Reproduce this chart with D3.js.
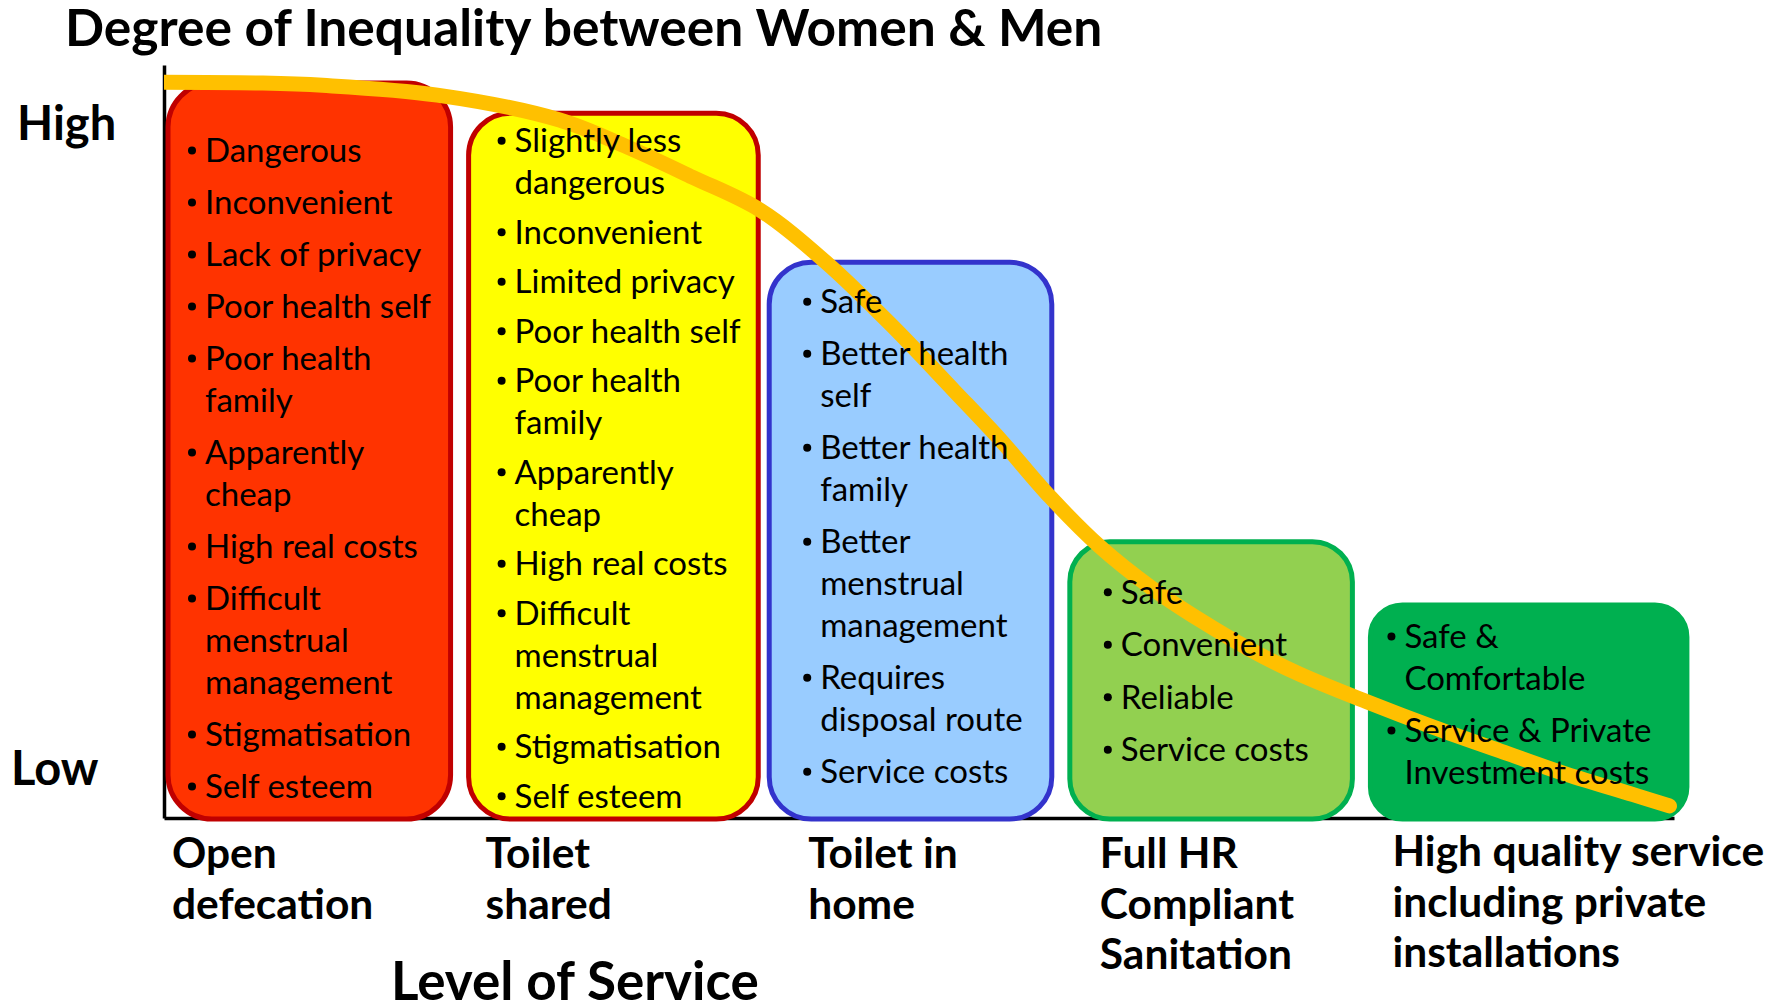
<!DOCTYPE html>
<html>
<head>
<meta charset="utf-8">
<script src="https://cdn.jsdelivr.net/npm/d3@7"></script>
<style>
  body { margin: 0; background: #fff; }
  text { font-family: Lato, "Open Sans", sans-serif; fill: #000; }
</style>
</head>
<body>
<div id="chart"></div>
<script>
const svgWidth = 1777;
const svgHeight = 1006;

// Levels of service (x categories)
const levels = ['Open defecation', 'Toilet shared', 'Toilet in home',
    'Full HR Compliant Sanitation', 'High quality service including private installations'];
const levelLines = [
    ['Open', 'defecation'],
    ['Toilet', 'shared'],
    ['Toilet in', 'home'],
    ['Full HR', 'Compliant', 'Sanitation'],
    ['High quality service', 'including private', 'installations']
];

// top of each box on the inequality scale (0 = low, 100 = high)
const boxTop = [97.6, 93.6, 73.8, 36.7, 28.3];

// bullet points per box (each item may wrap over several lines)
const boxItems = [
    [['Dangerous'], ['Inconvenient'], ['Lack of privacy'], ['Poor health self'],
     ['Poor health', 'family'], ['Apparently', 'cheap'], ['High real costs'],
     ['Difficult', 'menstrual', 'management'], ['Stigmatisation'], ['Self esteem']],
    [['Slightly less', 'dangerous'], ['Inconvenient'], ['Limited privacy'], ['Poor health self'],
     ['Poor health', 'family'], ['Apparently', 'cheap'], ['High real costs'],
     ['Difficult', 'menstrual', 'management'], ['Stigmatisation'], ['Self esteem']],
    [['Safe'], ['Better health', 'self'], ['Better health', 'family'],
     ['Better', 'menstrual', 'management'], ['Requires', 'disposal route'], ['Service costs']],
    [['Safe'], ['Convenient'], ['Reliable'], ['Service costs']],
    [['Safe &', 'Comfortable'], ['Service & Private', 'Investment costs']]
];

// inequality curve (x = service level 0-100, y = inequality 0-100)
const curveX = [0, 6.4, 10.5, 18.1, 26.2, 30.7, 35.0, 39.5, 43.9, 48.3, 52.3, 55.4, 58.7,
    62.0, 65.3, 68.6, 71.9, 75.2, 79.7, 84.0, 88.5, 92.9, 97.3, 99.7];
const curveY = [97.7, 97.6, 97.3, 96.0, 92.7, 89.1, 85.1, 80.7, 73.7, 65.2, 56.8, 50.2, 42.6,
    36.0, 30.7, 26.3, 22.4, 19.1, 15.4, 12.1, 8.9, 5.8, 3.1, 1.6];

// styling
const boxFill = ['#FF3300', '#FFFF00', '#99CCFF', '#92D050', '#00B050'];
const boxStroke = ['#C00000', '#C00000', '#3333CC', '#00B050', '#00B050'];
const boxRadius = [44, 42, 42, 40, 32];
const boxWidthK = [1, 1.025, 1, 1, 1.12];
const bulletInset = [24, 33, 38, 38, 21];
const textPadTop = [79, 39, 51, 62, 43];
const itemGap = [52, 49.5, 52, 52.5, 52];
const labelInset = [4, 17, 39, 30, 22];
const lineStep = 42;

const svg = d3.select('#chart')
    .append('svg')
    .attr('width', svgWidth)
    .attr('height', svgHeight);

const xScale = d3.scaleLinear().domain([0, 100]).range([164, 1674]);
const yScale = d3.scaleLinear().domain([0, 100]).range([818, 65]);
const band = d3.scaleBand()
    .domain(levels)
    .range([168, 1653])
    .paddingInner(0.06)
    .paddingOuter(0);

// axes (no ticks, just the lines)
svg.append('g')
    .attr('transform', `translate(0, ${yScale(0)})`)
    .call(d3.axisBottom(xScale).tickValues([]).tickSizeOuter(0));
svg.append('g')
    .attr('transform', `translate(${xScale(0)}, 0)`)
    .call(d3.axisLeft(yScale).tickValues([]).tickSizeOuter(0));
svg.selectAll('.domain').attr('stroke', '#000').attr('stroke-width', 3.5);

// boxes
svg.selectAll('.box')
    .data(levels)
    .enter()
    .append('rect')
    .classed('box', true)
    .attr('x', d => band(d))
    .attr('y', (d, i) => yScale(boxTop[i]))
    .attr('width', (d, i) => band.bandwidth() * boxWidthK[i])
    .attr('height', (d, i) => yScale(0) - yScale(boxTop[i]) + 1)
    .attr('rx', (d, i) => boxRadius[i])
    .attr('fill', (d, i) => boxFill[i])
    .attr('stroke', (d, i) => boxStroke[i])
    .attr('stroke-width', 5);

// inequality curve
svg.append('clipPath')
    .attr('id', 'clip')
    .append('rect')
    .attr('x', xScale(0))
    .attr('y', 0)
    .attr('width', svgWidth)
    .attr('height', svgHeight);

const line = d3.line()
    .x(d => xScale(d[0]))
    .y(d => yScale(d[1]))
    .curve(d3.curveCatmullRom);

svg.append('path')
    .datum(curveX.map((v, i) => [v, curveY[i]]))
    .attr('d', line)
    .attr('clip-path', 'url(#clip)')
    .attr('fill', 'none')
    .attr('stroke', '#FFC000')
    .attr('stroke-width', 15)
    .attr('stroke-linecap', 'round');

// bullet text in each box
levels.forEach((lvl, i) => {
    const g = svg.append('g');
    const x0 = band(lvl) + bulletInset[i];
    let yy = yScale(boxTop[i]) + textPadTop[i];
    boxItems[i].forEach(item => {
        g.append('circle')
            .attr('cx', x0)
            .attr('cy', yy - 11.5)
            .attr('r', 4)
            .attr('fill', '#000');
        item.forEach((t, k) => {
            g.append('text')
                .attr('x', x0 + 13)
                .attr('y', yy + k * lineStep)
                .attr('font-size', 33)
                .text(t);
        });
        yy += (item.length - 1) * lineStep + itemGap[i];
    });
});

// category labels under the axis
levels.forEach((lvl, i) => {
    const base = i === 4 ? 866 : 868;
    levelLines[i].forEach((t, k) => {
        svg.append('text')
            .attr('x', band(lvl) + labelInset[i])
            .attr('y', base + k * 50.5)
            .attr('font-size', 42.5)
            .attr('font-weight', 'bold')
            .text(t);
    });
});

// titles
svg.append('text')
    .attr('x', 65)
    .attr('y', 46)
    .attr('font-size', 51.5)
    .attr('font-weight', 'bold')
    .text('Degree of Inequality between Women & Men');

svg.append('text')
    .attr('x', 391)
    .attr('y', 1000)
    .attr('font-size', 53)
    .attr('font-weight', 'bold')
    .text('Level of Service');

svg.append('text')
    .attr('x', 17)
    .attr('y', 140)
    .attr('font-size', 47)
    .attr('font-weight', 'bold')
    .text('High');

svg.append('text')
    .attr('x', 11)
    .attr('y', 785)
    .attr('font-size', 47)
    .attr('font-weight', 'bold')
    .text('Low');
</script>
</body>
</html>
